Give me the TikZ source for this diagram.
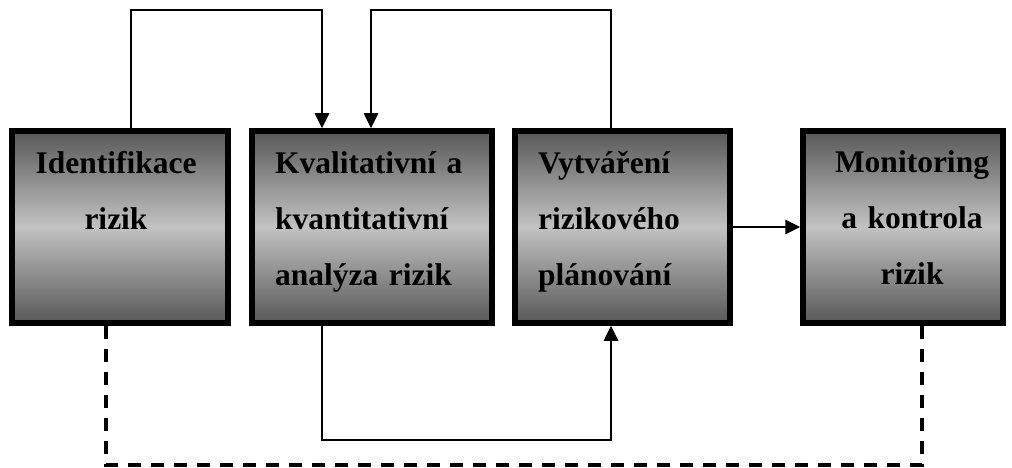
\documentclass[tikz,border=0pt]{standalone}
\usepackage{fontspec}
\setmainfont{Liberation Serif}
\usetikzlibrary{arrows.meta}
\definecolor{boxdark}{RGB}{88,88,88}
\definecolor{boxlight}{RGB}{194,194,194}
\tikzset{
  stagebox/.style={draw=black, line width=5.5pt, rectangle,
    top color=boxdark, bottom color=boxdark, middle color=boxlight,
    minimum height=192pt, inner sep=0pt},
  stagetext/.style={font=\bfseries\fontsize{31.5}{56}\selectfont,
    anchor=base, inner sep=0pt},
  flow/.style={line width=2.6pt, -{Triangle[length=15pt,width=14pt]}},
  feedback/.style={line width=3.2pt, dash pattern=on 13pt off 10pt}
}
\begin{document}
\begin{tikzpicture}[x=1pt, y=-1pt]
\useasboundingbox (0,0) rectangle (1012,468);

% process stages
\node[stagebox, minimum width=216pt] (b1) at (120,227) {};
\node[stagebox, minimum width=240pt] (b2) at (372,227) {};
\node[stagebox, minimum width=215pt] (b3) at (622.5,227) {};
\node[stagebox, minimum width=200pt] (b4) at (903,227) {};

% stage labels
\node[stagetext, text width=200pt, align=center] (t1) at (116,173)
  {Identifikace\\rizik};
\node[stagetext, text width=200pt, align=left, anchor=base west] (t2) at (275,173)
  {Kvalitativní a\\kvantitativní\\analýza rizik};
\node[stagetext, text width=190pt, align=left, anchor=base west] (t3) at (538,173)
  {Vytváření\\rizikového\\plánování};
\node[stagetext, text width=190pt, align=center] (t4) at (912,172)
  {Monitoring\\a kontrola\\rizik};

% rails for the loops
\coordinate (top) at (0,10);
\coordinate (low) at (0,440);
\coordinate (base) at (0,465);

% connectors
\draw[flow] ([xshift=11pt]b1.north) -- ([xshift=11pt]b1.north |- top)
  -| ([xshift=-50pt]b2.north);
\draw[flow] ([xshift=-11.5pt]b3.north) -- ([xshift=-11.5pt]b3.north |- top)
  -| ([xshift=-1pt]b2.north);
\draw[flow] ([xshift=-50pt]b2.south) -- ([xshift=-50pt]b2.south |- low)
  -| ([xshift=-11.5pt]b3.south);
\draw[flow] (b3.east) -- (b4.west);
\draw[feedback] ([xshift=-14pt]b1.south) -- ([xshift=-14pt]b1.south |- base)
  -| ([xshift=19pt]b4.south);
\end{tikzpicture}
\end{document}
